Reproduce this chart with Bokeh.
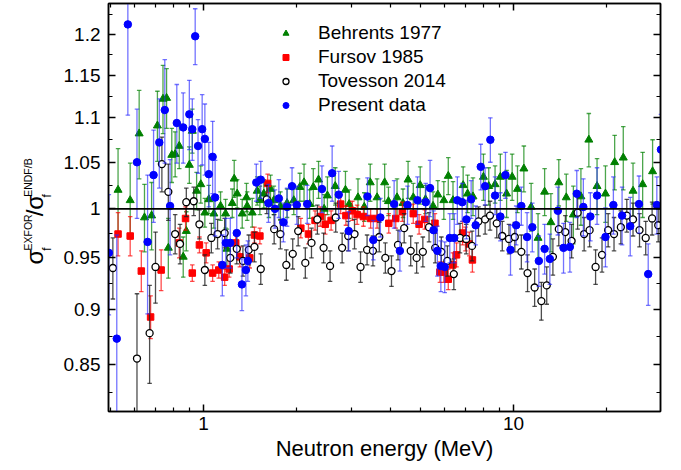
from bokeh.plotting import figure
from bokeh.models import (ColumnDataSource, FixedTicker, CustomJSTickFormatter, LogAxis,
                          Legend, LegendItem, Span, Title)
from bokeh.embed import file_html
from bokeh.resources import INLINE

# ---------------- data ----------------
# Behrents 1977 (green triangles)
beh_E = [0.53, 0.58, 0.62, 0.645, 0.68, 0.71, 0.74, 0.76, 0.77, 0.79, 0.81, 0.835, 0.86, 0.88, 0.90,
         0.92, 0.95, 0.98, 1.01, 1.04, 1.08, 1.135, 1.178, 1.19, 1.238, 1.256, 1.284, 1.333, 1.376,
         1.383, 1.436, 1.49, 1.52, 1.565, 1.625, 1.645, 1.686, 1.77, 1.86, 1.955, 2.045, 2.11, 2.20,
         2.26, 2.35, 2.45, 2.51, 2.66, 2.87, 2.95, 3.15, 3.30, 3.45, 3.63, 3.84, 3.95, 4.21, 4.40,
         4.57, 4.75, 5.0, 5.20, 5.50, 5.70, 5.96, 6.16, 6.38, 6.88, 7.11, 7.4, 8.0, 8.32, 8.72, 9.07,
         9.5, 9.9, 10.3, 10.8, 11.4, 12.0, 12.6, 13.2, 14.0, 14.8, 15.6, 16.5, 17.5, 18.6, 19.8,
         21.2, 22.6, 24.3, 26.1, 28.1]
beh_r = [1.020, 1.009, 1.082, 0.991, 0.993, 1.091, 1.122, 1.123, 0.960, 1.058, 1.059, 1.068, 0.951,
         0.977, 1.047, 1.085, 1.019, 1.026, 0.996, 1.010, 0.995, 1.003, 0.995, 0.959, 1.006, 1.032,
         1.016, 0.995, 1.012, 1.003, 0.996, 1.019, 1.009, 1.016, 1.006, 1.021, 1.009, 1.003, 1.006,
         1.009, 1.023, 1.028, 1.005, 1.023, 1.031, 1.000, 1.014, 1.024, 1.020, 1.005, 1.012, 1.002,
         1.028, 1.012, 1.028, 1.008, 1.012, 1.006, 1.031, 1.012, 1.025, 1.010, 1.003, 1.015, 1.009,
         1.035, 1.009, 1.025, 1.016, 1.013, 1.034, 1.024, 1.026, 1.034, 1.016, 1.034, 1.021, 1.043,
         1.002, 0.970, 1.018, 0.986, 1.028, 1.012, 0.994, 1.013, 1.075, 1.024, 1.016, 1.050, 1.055,
         1.019, 1.026, 1.040]
beh_err = [0.045, 0.04, 0.05, 0.035, 0.035, 0.04, 0.04, 0.035, 0.03, 0.03, 0.025, 0.025, 0.02, 0.02,
           0.02, 0.025, 0.02, 0.02, 0.015, 0.015, 0.015, 0.015, 0.015, 0.02, 0.015, 0.02, 0.015,
           0.015, 0.015, 0.015, 0.015, 0.015, 0.015, 0.015, 0.015, 0.015, 0.015, 0.015, 0.015, 0.015,
           0.015, 0.02, 0.015, 0.02, 0.02, 0.015, 0.02, 0.02, 0.02, 0.015, 0.02, 0.015, 0.02, 0.02,
           0.02, 0.015, 0.02, 0.015, 0.02, 0.015, 0.02, 0.015, 0.015, 0.015, 0.02, 0.02, 0.02, 0.02,
           0.02, 0.02, 0.025, 0.02, 0.02, 0.025, 0.025, 0.025, 0.025, 0.025, 0.025, 0.025, 0.025,
           0.03, 0.025, 0.025, 0.03, 0.03, 0.03, 0.03, 0.03, 0.03, 0.035, 0.03, 0.035, 0.035]

# Fursov 1985 (red squares)
fur_E = [0.53, 0.58, 0.63, 0.675, 0.73, 0.835, 0.875, 0.92, 0.97, 1.02, 1.07, 1.12, 1.17, 1.21, 1.27,
         1.31, 1.41, 1.46, 1.52, 1.61, 2.06, 2.18, 2.29, 2.38, 2.47, 2.58, 2.77, 2.88, 3.02, 3.13,
         3.28, 3.46, 3.63, 3.96, 4.17, 4.38, 4.75, 4.96, 5.17, 5.58, 5.79, 5.96, 6.16, 6.37, 6.55,
         6.85, 7.0, 7.2, 7.37]
fur_r = [0.974, 0.972, 0.937, 0.893, 0.938, 0.965, 0.990, 0.935, 0.963, 0.955, 0.935, 0.938, 0.931,
         0.939, 0.965, 0.951, 0.950, 0.973, 0.972, 1.027, 0.980, 0.974, 0.988, 0.992, 0.984, 0.988,
         1.005, 0.993, 0.998, 0.994, 0.992, 0.990, 0.990, 0.985, 0.990, 0.997, 0.995, 0.984, 0.989,
         0.985, 0.936, 0.936, 0.929, 0.943, 0.953, 0.975, 0.969, 0.964, 0.948]
fur_err = [0.022, 0.02, 0.02, 0.02, 0.02, 0.015, 0.012, 0.008, 0.008, 0.01, 0.008, 0.008, 0.008,
           0.008, 0.008, 0.01, 0.01, 0.008, 0.008, 0.01, 0.01, 0.01, 0.01, 0.01, 0.01, 0.01, 0.01,
           0.01, 0.01, 0.01, 0.01, 0.01, 0.01, 0.01, 0.01, 0.01, 0.01, 0.01, 0.01, 0.01, 0.01, 0.01,
           0.01, 0.012, 0.012, 0.012, 0.012, 0.012, 0.012]

# Tovesson 2014 (open circles)
tov_E = [0.51, 0.61, 0.67, 0.70, 0.734, 0.77, 0.81, 0.84, 0.88, 0.93, 0.97, 1.01, 1.06, 1.11, 1.17,
         1.22, 1.28, 1.34, 1.40, 1.46, 1.53, 1.60, 1.69, 1.77, 1.85, 1.94, 2.02, 2.13, 2.23, 2.33,
         2.44, 2.56, 2.67, 2.80, 2.93, 3.07, 3.21, 3.37, 3.52, 3.69, 3.86, 4.04, 4.24, 4.44, 4.66,
         4.87, 5.10, 5.34, 5.59, 5.85, 6.12, 6.42, 6.72, 7.04, 7.35, 7.71, 8.1, 8.4, 8.83, 9.2, 9.67,
         10.1, 10.6, 11.1, 11.7, 12.3, 12.8, 13.4, 14.0, 14.7, 15.4, 16.1, 16.9, 17.6, 18.4, 19.3,
         20.2, 21.1, 22.2, 23.2, 24.3, 25.5, 26.7, 28.0, 29.3]
tov_r = [0.940, 0.855, 0.878, 0.941, 1.048, 1.018, 0.974, 0.964, 1.007, 1.008, 0.984, 0.938, 0.970,
         0.974, 0.975, 0.950, 0.959, 0.947, 0.958, 0.961, 0.939, 1.010, 0.979, 0.974, 0.943, 0.954,
         0.977, 0.945, 0.965, 0.989, 0.960, 0.942, 0.991, 0.960, 0.972, 0.974, 0.941, 0.958, 0.957,
         0.971, 0.950, 0.937, 0.963, 0.980, 0.957, 0.950, 0.956, 0.981, 0.960, 0.956, 0.947, 0.934,
         0.970, 0.969, 0.962, 0.987, 0.989, 0.993, 0.985, 0.972, 0.969, 0.971, 0.956, 0.935, 0.921,
         0.908, 0.923, 0.951, 0.979, 0.976, 0.967, 0.996, 0.974, 0.978, 0.941, 0.953, 0.978, 0.974,
         0.981, 0.993, 0.989, 0.978, 0.970, 0.990, 0.983]
tov_err = [0.03, 0.06, 0.045, 0.035, 0.03, 0.03, 0.02, 0.02, 0.015, 0.015, 0.015, 0.015, 0.015,
           0.015, 0.015, 0.015, 0.015, 0.015, 0.015, 0.015, 0.015, 0.015, 0.015, 0.015, 0.015,
           0.015, 0.015, 0.015, 0.015, 0.015, 0.015, 0.015, 0.015, 0.015, 0.015, 0.015, 0.015,
           0.015, 0.015, 0.015, 0.015, 0.015, 0.015, 0.015, 0.015, 0.015, 0.015, 0.015, 0.015,
           0.015, 0.015, 0.015, 0.015, 0.015, 0.015, 0.015, 0.015, 0.015, 0.015, 0.015, 0.015,
           0.015, 0.017, 0.018, 0.018, 0.018, 0.018, 0.018, 0.017, 0.017, 0.017, 0.017, 0.017,
           0.017, 0.017, 0.017, 0.017, 0.017, 0.017, 0.017, 0.017, 0.017, 0.017, 0.017, 0.017]

# Present data (blue filled circles)
pre_E = [0.495, 0.525, 0.57, 0.61, 0.66, 0.69, 0.72, 0.75, 0.78, 0.82, 0.86, 0.90, 0.92, 0.94, 0.96,
         0.99, 1.01, 1.04, 1.07, 1.09, 1.15, 1.18, 1.22, 1.28, 1.33, 1.37, 1.39, 1.48, 1.53, 1.62,
         1.70, 1.75, 1.81, 1.86, 1.93, 2.00, 2.16, 2.41, 2.60, 2.73, 2.94, 3.38, 3.53, 3.72, 4.12,
         4.30, 4.55, 4.90, 5.21, 5.38, 5.52, 5.68, 5.83, 6.00, 6.23, 6.44, 6.59, 6.83, 7.05, 7.30,
         7.55, 7.84, 8.10, 8.42, 8.72, 9.07, 9.42, 9.78, 10.2, 10.6, 11.06, 11.5, 12.07, 12.6, 13.1,
         13.9, 14.5, 15.2, 16.0, 16.8, 17.7, 18.6, 19.8, 21.0, 22.4, 23.8, 25.4, 27.2, 29.0, 29.9]
pre_r = [0.955, 0.873, 1.213, 1.050, 0.966, 1.036, 1.072, 1.109, 1.003, 1.094, 1.089, 1.104, 1.087,
         1.198, 1.068, 1.087, 1.076, 1.037, 1.056, 1.012, 0.943, 0.965, 0.965, 0.975, 0.924, 0.938,
         0.947, 1.028, 1.031, 1.006, 1.000, 1.011, 0.986, 1.002, 1.024, 1.004, 1.005, 1.021, 1.038,
         1.015, 0.977, 1.013, 0.968, 0.991, 1.005, 0.957, 1.004, 1.009, 1.007, 1.022, 0.978, 0.957,
         0.942, 0.941, 0.970, 0.970, 1.009, 1.007, 0.989, 1.010, 0.983, 1.045, 1.024, 1.075, 1.014,
         0.992, 1.036, 0.958, 0.983, 1.003, 0.971, 0.981, 0.947, 0.959, 0.949, 0.998, 0.960, 0.961,
         1.016, 1.002, 0.992, 1.014, 0.971, 1.004, 0.993, 0.982, 1.005, 0.934, 1.004, 1.064]
pre_err = [0.06, 0.10, 0.11, 0.06, 0.07, 0.05, 0.05, 0.06, 0.05, 0.045, 0.04, 0.04, 0.035, 0.035,
           0.03, 0.04, 0.04, 0.035, 0.04, 0.04, 0.03, 0.025, 0.025, 0.025, 0.025, 0.025, 0.02, 0.02,
           0.02, 0.02, 0.02, 0.02, 0.02, 0.02, 0.02, 0.02, 0.02, 0.025, 0.03, 0.025, 0.02, 0.02,
           0.02, 0.02, 0.025, 0.02, 0.02, 0.025, 0.02, 0.03, 0.02, 0.025, 0.025, 0.025, 0.025,
           0.025, 0.025, 0.02, 0.02, 0.02, 0.02, 0.025, 0.02, 0.025, 0.02, 0.025, 0.025, 0.025,
           0.02, 0.02, 0.025, 0.025, 0.025, 0.025, 0.025, 0.025, 0.025, 0.025, 0.025, 0.03, 0.025,
           0.03, 0.03, 0.03, 0.03, 0.03, 0.03, 0.03, 0.03, 0.04]

x_major = [1, 10]
x_minor = [0.5, 0.6, 0.7, 0.8, 0.9, 2, 3, 4, 5, 6, 7, 8, 9, 20, 30]
y_major = [0.85, 0.9, 0.95, 1.0, 1.05, 1.1, 1.15, 1.2]
y_minor = [0.825, 0.875, 0.925, 0.975, 1.025, 1.075, 1.125, 1.175, 1.225]

FONT = "Liberation Sans"
NB = "\u00a0"

# ---------------- figure ----------------
p = figure(width=677, height=466, x_axis_type="log", y_axis_type="log",
           x_range=(0.4937, 29.8), y_range=(0.8089, 1.2398),
           output_backend="svg", toolbar_location=None,
           min_border_left=108, min_border_right=17, min_border_top=3, min_border_bottom=55)
p.xgrid.visible = False
p.ygrid.visible = False
p.outline_line_color = "black"
p.outline_line_width = 1.5
p.background_fill_color = "white"

bottom = p.xaxis[0]
left = p.yaxis[0]
bottom.ticker = FixedTicker(ticks=x_major, minor_ticks=x_minor)
left.ticker = FixedTicker(ticks=y_major, minor_ticks=y_minor)
bottom.formatter = CustomJSTickFormatter(code="return tick.toString();")
left.formatter = CustomJSTickFormatter(code="return tick.toString();")

top = LogAxis(ticker=FixedTicker(ticks=x_major, minor_ticks=x_minor),
              formatter=CustomJSTickFormatter(code="return '';"),
              major_label_text_font_size="1px", major_label_standoff=0)
right = LogAxis(ticker=FixedTicker(ticks=y_major, minor_ticks=y_minor),
                formatter=CustomJSTickFormatter(code="return '';"),
                major_label_text_font_size="1px", major_label_standoff=0)
p.add_layout(top, "above")
p.add_layout(right, "right")

for ax in [bottom, left, top, right]:
    ax.axis_line_color = "black"
    ax.axis_line_width = 1.5
    ax.major_tick_in = 7
    ax.major_tick_out = 0
    ax.minor_tick_in = 4
    ax.minor_tick_out = 0
    ax.major_tick_line_color = "black"
    ax.minor_tick_line_color = "black"
    ax.major_tick_line_width = 1.5
    ax.minor_tick_line_width = 1.2

for ax in [bottom, left]:
    ax.major_label_text_font = FONT
    ax.major_label_text_font_size = "19px"
    ax.major_label_text_color = "black"
bottom.major_label_standoff = 5
left.major_label_standoff = 8

bottom.axis_label = "Neutron energy (MeV)"
bottom.axis_label_text_font = FONT
bottom.axis_label_text_font_size = "22px"
bottom.axis_label_text_font_style = "normal"
bottom.axis_label_text_color = "black"
bottom.axis_label_standoff = 3

# y-axis title: subscripts as the axis label, main symbols and superscripts as side titles
left.axis_label = "f" + NB * 15 + "f" + NB * 9
left.axis_label_text_font = FONT
left.axis_label_text_font_size = "12px"
left.axis_label_text_font_style = "normal"
left.axis_label_text_color = "black"
left.axis_label_standoff = 7

t_main = Title(text="σ" + NB * 5 + "/σ", align="left", vertical_align="bottom", offset=147,
               standoff=-22, text_font=FONT, text_font_size="24px", text_font_style="normal",
               text_color="black")
t_sup = Title(text="EXFOR" + NB * 6 + "ENDF/B", align="left", vertical_align="bottom",
              offset=161, standoff=-8, text_font=FONT, text_font_size="10.5px",
              text_font_style="normal", text_color="black")
p.add_layout(t_main, "left")
p.add_layout(t_sup, "left")

p.add_layout(Span(location=1.0, dimension="width", line_color="black", line_width=1.8))


def add_series(E, r, err, marker, size, fill, line, bar, bar_alpha, lw=1.0):
    lo = [a - b for a, b in zip(r, err)]
    hi = [a + b for a, b in zip(r, err)]
    src = ColumnDataSource(dict(x=E, y=r, lo=lo, hi=hi))
    p.segment(x0="x", y0="lo", x1="x", y1="hi", source=src, line_color=bar,
              line_alpha=bar_alpha, line_width=1.3)
    p.scatter(x="x", y="hi", source=src, marker="dash", size=4.5, line_color=bar,
              line_alpha=bar_alpha, line_width=1.3)
    p.scatter(x="x", y="lo", source=src, marker="dash", size=4.5, line_color=bar,
              line_alpha=bar_alpha, line_width=1.3)
    return p.scatter(x="x", y="y", source=src, marker=marker, size=size, fill_color=fill,
                     line_color=line, line_width=lw)


r_beh = add_series(beh_E, beh_r, beh_err, "triangle", 8, "#008000", "#008000", "#008000", 0.7)
r_fur = add_series(fur_E, fur_r, fur_err, "square", 6.5, "#ff0000", "#ff0000", "#ff0000", 0.7)
r_tov = add_series(tov_E, tov_r, tov_err, "circle", 7, "white", "black", "#222222", 0.8, lw=1.3)
r_pre = add_series(pre_E, pre_r, pre_err, "circle", 7.5, "#0000ff", "#0000ff", "#2a2aff", 0.65)

legend = Legend(items=[LegendItem(label="Behrents 1977", renderers=[r_beh]),
                       LegendItem(label="Fursov 1985", renderers=[r_fur]),
                       LegendItem(label="Tovesson 2014", renderers=[r_tov]),
                       LegendItem(label="Present data", renderers=[r_pre])],
                location=(170, 294), orientation="vertical",
                label_text_font=FONT, label_text_font_size="19px", label_text_color="black",
                glyph_width=15, glyph_height=24, label_height=24, spacing=0, padding=0,
                margin=0, label_standoff=25, border_line_alpha=0, background_fill_alpha=0)
p.add_layout(legend)

open("out.html", "w").write(file_html(p, INLINE))
